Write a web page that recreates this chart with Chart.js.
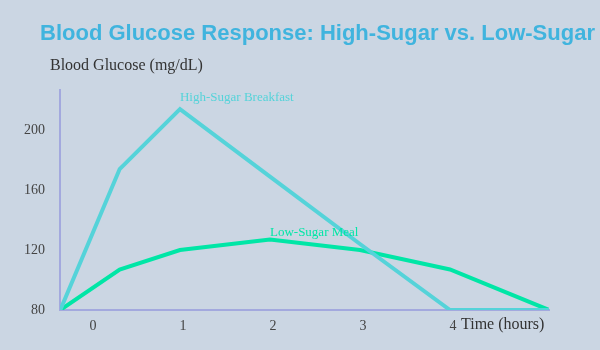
<!DOCTYPE html>
<html>
<head>
<meta charset="utf-8">
<script src="https://cdn.jsdelivr.net/npm/chart.js@4/dist/chart.umd.min.js"></script>
<style>
  html, body { margin: 0; padding: 0; background: #cbd6e3; }
  canvas { display: block; }
</style>
</head>
<body>
<canvas id="glucoseChart" width="600" height="350"></canvas>
<script>
// Time points (hours) and readings (mg/dL)
const timeHours = [-0.33, 0.33, 1, 2, 3, 4, 5.1];
const highSugar = [80, 174, 214, 169, 124, 80, 80];
const lowSugar = [80, 107, 120, 127, 120, 107, 80];
const xTickValues = [0, 1, 2, 3, 4];
const yTickValues = [80, 120, 160, 200];

const highColor = "#55d3d9";
const lowColor = "#00e6a6";
const serif = "'Liberation Serif', 'DejaVu Serif', serif";

const textPlugin = {
  id: "texts",
  beforeDraw(chart) {
    const ctx = chart.ctx;
    ctx.save();
    ctx.fillStyle = "#cbd6e3";
    ctx.fillRect(0, 0, chart.width, chart.height);
    ctx.restore();
  },
  afterDraw(chart) {
    const ctx = chart.ctx;
    ctx.save();
    ctx.textAlign = "left";

    ctx.textBaseline = "alphabetic";
    ctx.font = "bold 22px 'Liberation Sans', Arial, sans-serif";
    ctx.fillStyle = "#40b4de";
    ctx.fillText("Blood Glucose Response: High-Sugar vs. Low-Sugar", 40, 40);

    ctx.textBaseline = "middle";
    ctx.font = "16px " + serif;
    ctx.fillStyle = "#333";
    ctx.fillText("Blood Glucose (mg/dL)", 50, 66);
    ctx.fillText("Time (hours)", 461, 325);

    // series labels near their peaks
    ctx.font = "13px " + serif;
    const hi = chart.getDatasetMeta(0).data[2];
    ctx.fillStyle = highColor;
    ctx.fillText("High-Sugar Breakfast", hi.x, hi.y - 11);
    const lo = chart.getDatasetMeta(1).data[3];
    ctx.fillStyle = lowColor;
    ctx.fillText("Low-Sugar Meal", lo.x, lo.y - 7);
    ctx.restore();
  }
};

new Chart(document.getElementById("glucoseChart").getContext("2d"), {
  type: "line",
  data: {
    datasets: [
      { label: "High-Sugar Breakfast", data: timeHours.map((t, i) => ({ x: t, y: highSugar[i] })),
        borderColor: highColor, borderWidth: 4, pointRadius: 0, tension: 0, fill: false },
      { label: "Low-Sugar Meal", data: timeHours.map((t, i) => ({ x: t, y: lowSugar[i] })),
        borderColor: lowColor, borderWidth: 4, pointRadius: 0, tension: 0, fill: false }
    ]
  },
  options: {
    responsive: false,
    animation: false,
    layout: { padding: { top: 90, right: 51, left: 0, bottom: 0 } },
    plugins: { legend: { display: false }, tooltip: { enabled: false }, title: { display: false } },
    scales: {
      x: {
        type: "linear",
        min: -0.333, max: 5.1,
        grid: { display: false, drawTicks: false },
        border: { display: true, color: "#a3a9de", width: 2 },
        afterBuildTicks: s => { s.ticks = xTickValues.map(v => ({ value: v })); },
        afterFit: s => { s.height = 40; },
        ticks: { color: "#444", font: { family: serif, size: 14 }, padding: 8, labelOffset: 3, maxRotation: 0 }
      },
      y: {
        min: 80, max: 226.7,
        grid: { display: false, drawTicks: false },
        border: { display: true, color: "#a3a9de", width: 2 },
        afterBuildTicks: s => { s.ticks = yTickValues.map(v => ({ value: v })); },
        afterFit: s => { s.width = 60; },
        ticks: { color: "#444", font: { family: serif, size: 14 }, padding: 15 }
      }
    }
  },
  plugins: [textPlugin]
});
</script>
</body>
</html>
